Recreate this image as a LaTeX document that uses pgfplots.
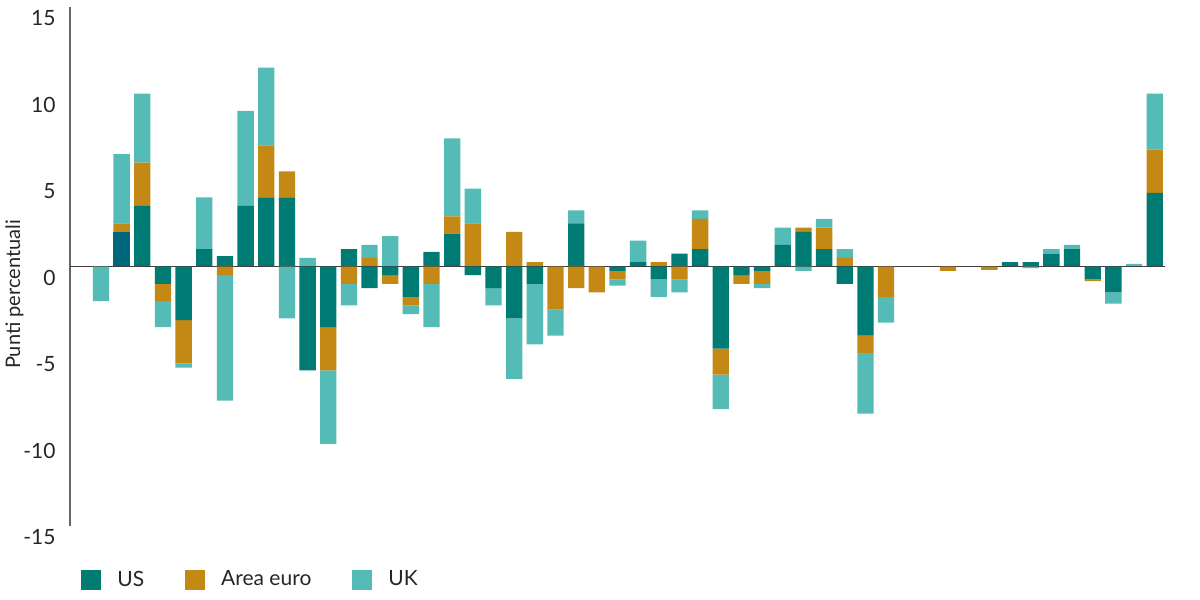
\documentclass[border=0pt]{standalone}
\usepackage{fontspec}
\setmainfont{Lato}
\usepackage{pgfplots}
\usepackage{pgfplotstable}
\pgfplotsset{compat=1.18}
\definecolor{cUS}{RGB}{0,123,115}
\definecolor{cUShl}{RGB}{0,103,122}
\definecolor{cEU}{RGB}{196,136,20}
\definecolor{cUK}{RGB}{85,187,182}

% positive contributions (stacked upward from 0)
\pgfplotstableread{
x us ushl eu uk
0 0 0 0 0
1 0 2.0 0.5 4.0
2 3.5 0 2.5 4.0
3 0 0 0 0
4 0 0 0 0
5 1 0 0 3
6 0.6 0 0 0
7 3.5 0 0 5.5
8 4 0 3 4.5
9 4 0 1.5 0
10 0 0 0 0.5
11 0 0 0 0
12 1 0 0 0
13 0 0 0.5 0.75
14 0 0 0 1.75
15 0 0 0 0
16 0.85 0 0 0
17 1.9 0 1.0 4.5
18 0 0 2.5 2.0
19 0 0 0 0
20 0 0 2 0
21 0 0 0.25 0
22 0 0 0 0
23 2.5 0 0 0.75
24 0 0 0 0
25 0 0 0 0
26 0.25 0 0 1.25
27 0 0 0.25 0
28 0.75 0 0 0
29 1 0 1.75 0.5
30 0 0 0 0
31 0 0 0 0
32 0 0 0 0
33 1.25 0 0 1.0
34 2.0 0 0.25 0
35 1 0 1.25 0.5
36 0 0 0.5 0.5
37 0 0 0 0
38 0 0 0 0
39 0 0 0 0
40 0 0 0 0
41 0 0 0 0
42 0 0 0 0
43 0 0 0 0
44 0.25 0 0 0
45 0.25 0 0 0
46 0.75 0 0 0.25
47 1 0 0 0.25
48 0 0 0 0
49 0 0 0 0
50 0 0 0 0.15
51 4.25 0 2.5 3.25
}\postab

% negative contributions (stacked downward from 0)
\pgfplotstableread{
x us eu uk
0 0 0 -2.0
1 0 0 0
2 0 0 0
3 -1 -1 -1.5
4 -3.1 -2.5 -0.25
5 0 0 0
6 0 -0.5 -7.25
7 0 0 0
8 0 0 0
9 0 0 -3
10 -6 0 0
11 -3.5 -2.5 -4.25
12 0 -1 -1.25
13 -1.25 0 0
14 -0.5 -0.5 0
15 -1.75 -0.5 -0.5
16 0 -1 -2.5
17 0 0 0
18 -0.5 0 0
19 -1.25 0 -1.0
20 -3 0 -3.5
21 -1 0 -3.5
22 0 -2.5 -1.5
23 0 -1.25 0
24 0 -1.5 0
25 -0.25 -0.5 -0.35
26 0 0 0
27 -0.75 0 -1.0
28 0 -0.75 -0.75
29 0 0 0
30 -4.75 -1.5 -2.0
31 -0.5 -0.5 0
32 -0.25 -0.75 -0.25
33 0 0 0
34 0 0 -0.25
35 0 0 0
36 -1 0 0
37 -4 -1 -3.5
38 0 -1.75 -1.5
39 0 0 0
40 0 0 0
41 0 -0.25 0
42 0 0 0
43 0 -0.2 0
44 0 0 0
45 0 0 -0.1
46 0 0 0
47 0 0 0
48 -0.75 -0.1 0
49 -1.5 0 -0.65
50 0 0 0
51 0 0 0
}\negtab

\pgfplotsset{
  base/.style={
    scale only axis, width=547.5pt, height=259.5pt,
    at={(35pt,37pt)}, anchor=south west,
    xmin=-1.5, xmax=51.5, ymin=-15, ymax=15,
    enlargelimits=false,
    ybar stacked, bar width=0.79,
    xtick=\empty,
  },
}

\begin{document}
\begin{tikzpicture}
\useasboundingbox (0,0) rectangle (600pt,300pt);
\begin{axis}[base,
  axis x line=none, axis y line*=left,
  axis line style={draw=black!60, line width=0.7pt},
  ytick={-15,-10,-5,0,5,10,15},
  yticklabels={-15,-10,-5,0,5,10,15},
  major tick length=0pt,
  yticklabel style={anchor=east, inner sep=0pt, xshift=-7pt, yshift=-5.5pt,
    font=\fontsize{10.5}{12}\selectfont, text=black!85},
  ylabel={Punti percentuali},
  ylabel style={at={(axis description cs:-0.0507,0.446)}, anchor=center,
    font=\fontsize{10}{12}\selectfont, text=black!85},
  legend columns=3,
  legend image code/.code={\fill[#1,draw=none] (0pt,-5pt) rectangle (10pt,5pt);},
  legend style={draw=none, fill=none, inner sep=0pt,
    at={(axis description cs:0.01,-0.104)}, anchor=west,
    font=\fontsize{10.5}{12}\selectfont, text=black!85,
    nodes={inner sep=0pt, anchor=west},
    /tikz/every odd column/.append style={column sep=8pt},
    /tikz/every even column/.append style={column sep=20.5pt}},
]
\addplot[fill=cUS, draw=none] table[x=x, y=us] {\postab};
\addplot[fill=cUShl, draw=none, forget plot] table[x=x, y=ushl] {\postab};
\addplot[fill=cEU, draw=none] table[x=x, y=eu] {\postab};
\addplot[fill=cUK, draw=none] table[x=x, y=uk] {\postab};
\legend{US, Area euro, UK}
\end{axis}
\begin{axis}[base, hide axis]
\addplot[fill=cUS, draw=none] table[x=x, y=us] {\negtab};
\addplot[fill=cEU, draw=none] table[x=x, y=eu] {\negtab};
\addplot[fill=cUK, draw=none] table[x=x, y=uk] {\negtab};
\draw[black!75, line width=0.75pt] (axis cs:-1.5,0) -- (axis cs:51.5,0);
\end{axis}
\end{tikzpicture}
\end{document}
